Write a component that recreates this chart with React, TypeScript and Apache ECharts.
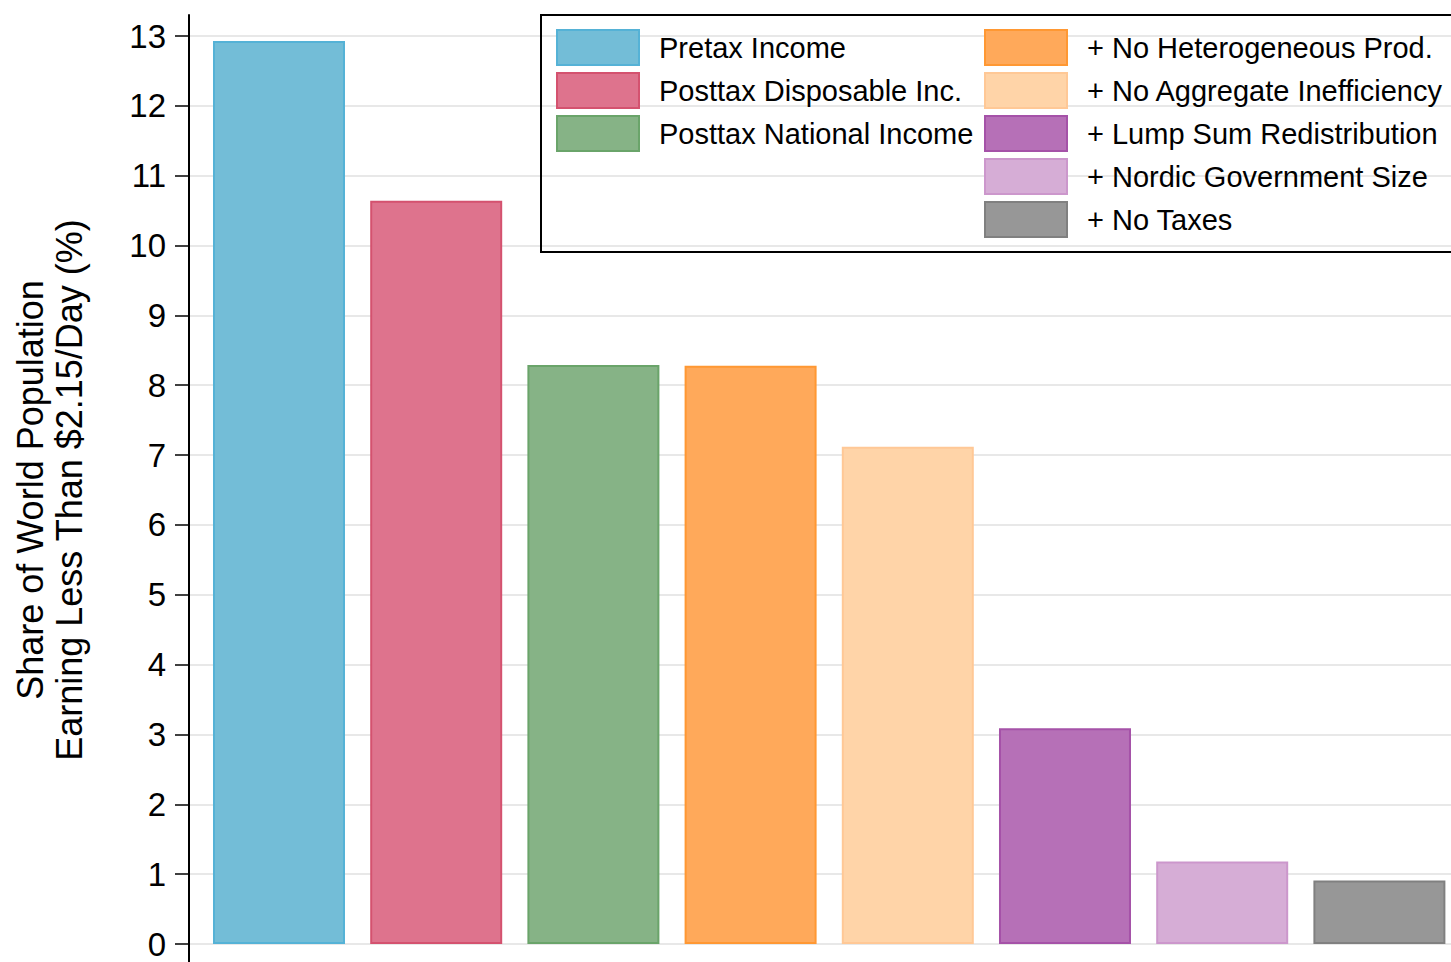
import React, { useEffect, useRef } from "react";
import * as echarts from "echarts";

const seriesNames = [
  "Pretax Income",
  "Posttax Disposable Inc.",
  "Posttax National Income",
  "+ No Heterogeneous Prod.",
  "+ No Aggregate Inefficiency",
  "+ Lump Sum Redistribution",
  "+ Nordic Government Size",
  "+ No Taxes",
];
const values = [12.93, 10.64, 8.29, 8.28, 7.12, 3.09, 1.18, 0.91];
const fillColors = ["#73BDD7", "#DE738D", "#86B386", "#FFA95A", "#FFD4A8", "#B670B7", "#D6ADD6", "#979797"];
const borderColors = ["#55B2D6", "#D4526F", "#6AA46A", "#FF9833", "#FFC896", "#A552A8", "#CC97CC", "#808080"];
const yTicks = { min: 0, max: 13, interval: 1 };
const yTitle = "Share of World Population\nEarning Less Than $2.15/Day (%)";

const FONT = "Liberation Sans, Arial, sans-serif";

export default function App() {
  const ref = useRef<HTMLDivElement>(null);
  useEffect(() => {
    if (!ref.current) return;
    const chart = echarts.init(ref.current, undefined, { renderer: "svg" });
    const series = seriesNames.map((name, i) => ({
      name,
      type: "bar",
      xAxisIndex: 0,
      yAxisIndex: 0,
      barWidth: 132,
      barGap: "-100%",
      data: [[i + 1, values[i]]],
      itemStyle: { color: fillColors[i], borderColor: borderColors[i], borderWidth: 2 },
      emphasis: { disabled: true },
    }));
    const legendBase = {
      orient: "vertical",
      top: 24,
      itemWidth: 82,
      itemHeight: 35,
      itemGap: 6,
      icon: "rect",
      selectedMode: false,
      padding: 5,
      textStyle: { fontSize: 29, lineHeight: 35, color: "#000", fontFamily: FONT, padding: [0, 0, 0, 15] },
    };
    chart.setOption({
      animation: false,
      backgroundColor: "#ffffff",
      textStyle: { fontFamily: FONT },
      grid: [
        { left: 189, top: 36, width: 1262, height: 908 },
        { left: 189, top: 15, width: 1262, height: 947 },
      ],
      xAxis: [
        { type: "value", gridIndex: 0, min: 0.4275, max: 8.4555, show: false },
        { type: "value", gridIndex: 1, min: 0, max: 1, show: false },
      ],
      yAxis: [
        {
          type: "value",
          gridIndex: 0,
          min: yTicks.min,
          max: yTicks.max,
          interval: yTicks.interval,
          axisLine: { show: false },
          axisTick: { show: true, length: 14, lineStyle: { color: "#000", width: 1.5 } },
          axisLabel: { fontSize: 33, color: "#000", margin: 23, fontFamily: FONT },
          splitLine: { show: true, lineStyle: { color: "#e0e0e0", width: 1.5 } },
          name: yTitle,
          nameLocation: "middle",
          nameGap: 100,
          nameTextStyle: { fontSize: 36, color: "#000", lineHeight: 39, fontFamily: FONT },
        },
        {
          type: "value",
          gridIndex: 1,
          min: 0,
          max: 1,
          axisLine: { show: true, lineStyle: { color: "#000", width: 2 } },
          axisTick: { show: false },
          axisLabel: { show: false },
          splitLine: { show: false },
        },
      ],
      legend: [
        { ...legendBase, data: seriesNames.slice(0, 3), left: 551 },
        { ...legendBase, data: seriesNames.slice(3), left: 979 },
      ],
      graphic: [
        {
          type: "rect",
          shape: { x: 541, y: 15, width: 930, height: 237 },
          style: { fill: "none", stroke: "#000", lineWidth: 2 },
          silent: true,
          z: 10,
        },
      ],
      series,
    });
    return () => chart.dispose();
  }, []);
  return <div ref={ref} style={{ position: "fixed", left: 0, top: 0, width: 1451, height: 962 }} />;
}
